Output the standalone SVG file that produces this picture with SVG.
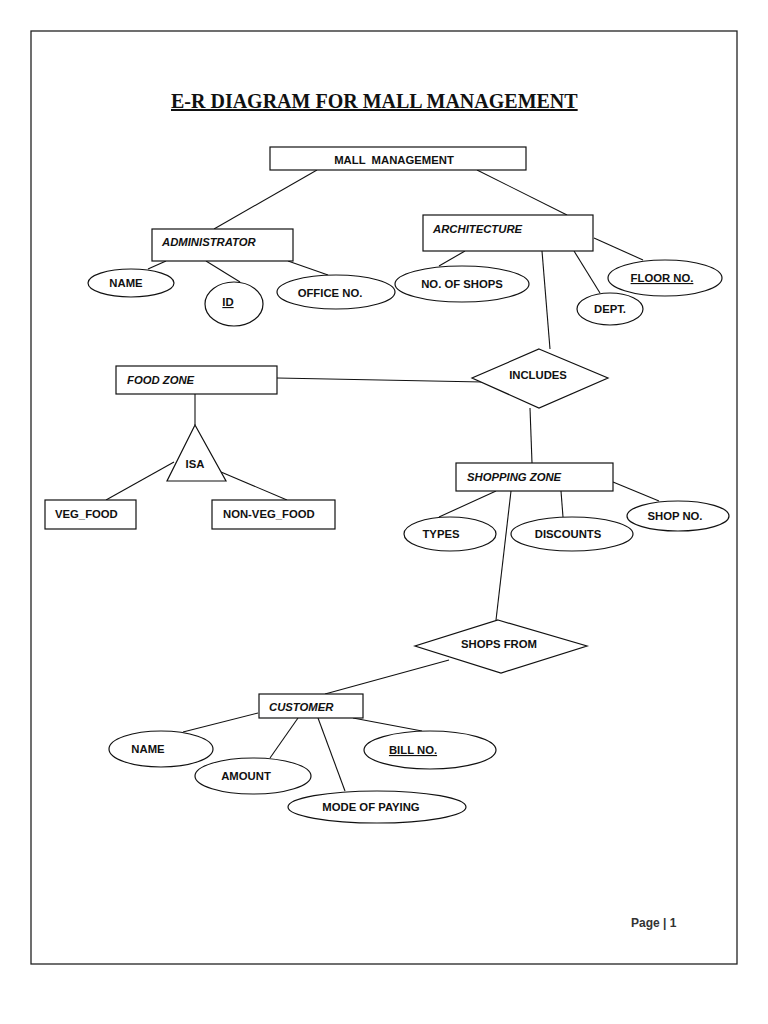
<svg xmlns="http://www.w3.org/2000/svg" width="768" height="1024" viewBox="0 0 768 1024">
<style>
.shape{fill:#fff;stroke:#111;stroke-width:1.2}
.conn line{stroke:#111;stroke-width:1.1}
.t{font-family:"Liberation Sans",Arial,sans-serif;font-weight:bold;font-size:11.3px;fill:#111}
.i{font-style:italic}
.m{text-anchor:middle}
.u{text-decoration:underline}
</style>
<rect width="768" height="1024" fill="#fff"/>
<rect x="31" y="31" width="706" height="933" fill="none" stroke="#222" stroke-width="1.3"/>
<text x="171" y="108" font-family="Liberation Serif,'Times New Roman',serif" font-weight="bold" font-size="20" fill="#111" text-decoration="underline">E-R DIAGRAM FOR MALL MANAGEMENT</text>

<g id="connectors" class="conn">
<line x1="317" y1="170" x2="214" y2="229"/>
<line x1="477" y1="170" x2="567" y2="215"/>
<line x1="166" y1="261" x2="148" y2="269"/>
<line x1="206" y1="261" x2="240" y2="282"/>
<line x1="288" y1="261" x2="328" y2="275"/>
<line x1="465" y1="251" x2="439" y2="266"/>
<line x1="542" y1="251" x2="550" y2="349"/>
<line x1="574" y1="251" x2="600" y2="293"/>
<line x1="594" y1="238" x2="643" y2="260"/>
<line x1="277" y1="378" x2="483" y2="382"/>
<line x1="195" y1="394" x2="195" y2="425"/>
<line x1="174" y1="462" x2="106" y2="500"/>
<line x1="221" y1="472" x2="287" y2="500"/>
<line x1="530" y1="408" x2="532" y2="463"/>
<line x1="496" y1="491" x2="439" y2="517"/>
<line x1="511" y1="491" x2="496" y2="620"/>
<line x1="561" y1="491" x2="563" y2="517"/>
<line x1="613" y1="482" x2="659" y2="501"/>
<line x1="449" y1="660" x2="325" y2="694"/>
<line x1="258" y1="713" x2="183" y2="732"/>
<line x1="298" y1="718" x2="270" y2="758"/>
<line x1="318" y1="718" x2="345" y2="791"/>
<line x1="353" y1="718" x2="422" y2="731"/>
</g>

<g id="mall"><rect class="shape" x="270" y="147" width="256" height="23"/><text class="t m" x="394" y="164" font-size="13" xml:space="preserve">MALL  MANAGEMENT</text></g>
<g id="administrator"><rect class="shape" x="152" y="229" width="141" height="32"/><text class="t i" x="162" y="246">ADMINISTRATOR</text></g>
<g id="architecture"><rect class="shape" x="423" y="215" width="170" height="36"/><text class="t i" x="433" y="233">ARCHITECTURE</text></g>

<g id="admin-name"><ellipse class="shape" cx="131" cy="283" rx="43" ry="14"/><text class="t m" x="126" y="287">NAME</text></g>
<g id="admin-id"><ellipse class="shape" cx="234" cy="304" rx="29" ry="22"/><text class="t m u" x="228" y="306">ID</text></g>
<g id="office-no"><ellipse class="shape" cx="336" cy="292" rx="59" ry="17"/><text class="t m" x="330" y="297">OFFICE NO.</text></g>
<g id="no-of-shops"><ellipse class="shape" cx="462" cy="284" rx="67" ry="18"/><text class="t m" x="462" y="288">NO. OF SHOPS</text></g>
<g id="dept"><ellipse class="shape" cx="610" cy="309" rx="33" ry="16"/><text class="t m" x="610" y="313">DEPT.</text></g>
<g id="floor-no"><ellipse class="shape" cx="665" cy="278" rx="57" ry="18"/><text class="t m u" x="662" y="282">FLOOR NO.</text></g>

<g id="includes"><polygon class="shape" points="539,349 608,378 539,408 472,378"/><text class="t m" x="538" y="379">INCLUDES</text></g>
<g id="food-zone"><rect class="shape" x="116" y="366" width="161" height="28"/><text class="t i" x="127" y="384">FOOD ZONE</text></g>
<g id="isa"><polygon class="shape" points="195,425 226,481 167,481"/><text class="t m" x="195" y="468">ISA</text></g>
<g id="veg-food"><rect class="shape" x="45" y="500" width="91" height="29"/><text class="t" x="55" y="518">VEG_FOOD</text></g>
<g id="non-veg-food"><rect class="shape" x="212" y="500" width="123" height="29"/><text class="t" x="223" y="518">NON-VEG_FOOD</text></g>

<g id="shopping-zone"><rect class="shape" x="456" y="463" width="157" height="28"/><text class="t i" x="467" y="481">SHOPPING ZONE</text></g>
<g id="types"><ellipse class="shape" cx="450" cy="534" rx="46" ry="17"/><text class="t m" x="441" y="538">TYPES</text></g>
<g id="discounts"><ellipse class="shape" cx="572" cy="534" rx="61" ry="17"/><text class="t m" x="568" y="538">DISCOUNTS</text></g>
<g id="shop-no"><ellipse class="shape" cx="678" cy="516" rx="51" ry="15"/><text class="t m" x="675" y="520">SHOP NO.</text></g>

<g id="shops-from"><polygon class="shape" points="498,620 587,646 501,673 415,646"/><text class="t m" x="499" y="648">SHOPS FROM</text></g>
<g id="customer"><rect class="shape" x="259" y="694" width="104" height="24"/><text class="t i" x="269" y="711">CUSTOMER</text></g>
<g id="cust-name"><ellipse class="shape" cx="161" cy="749" rx="52" ry="18"/><text class="t m" x="148" y="753">NAME</text></g>
<g id="amount"><ellipse class="shape" cx="253" cy="776" rx="58" ry="18"/><text class="t m" x="246" y="780">AMOUNT</text></g>
<g id="mode-of-paying"><ellipse class="shape" cx="377" cy="807" rx="89" ry="16"/><text class="t m" x="371" y="811">MODE OF PAYING</text></g>
<g id="bill-no"><ellipse class="shape" cx="430" cy="750" rx="66" ry="19"/><text class="t m u" x="413" y="754">BILL NO.</text></g>

<text x="631" y="927" font-family="'Liberation Sans',Arial,sans-serif" font-weight="bold" font-size="12" fill="#333">Page | 1</text>
</svg>
